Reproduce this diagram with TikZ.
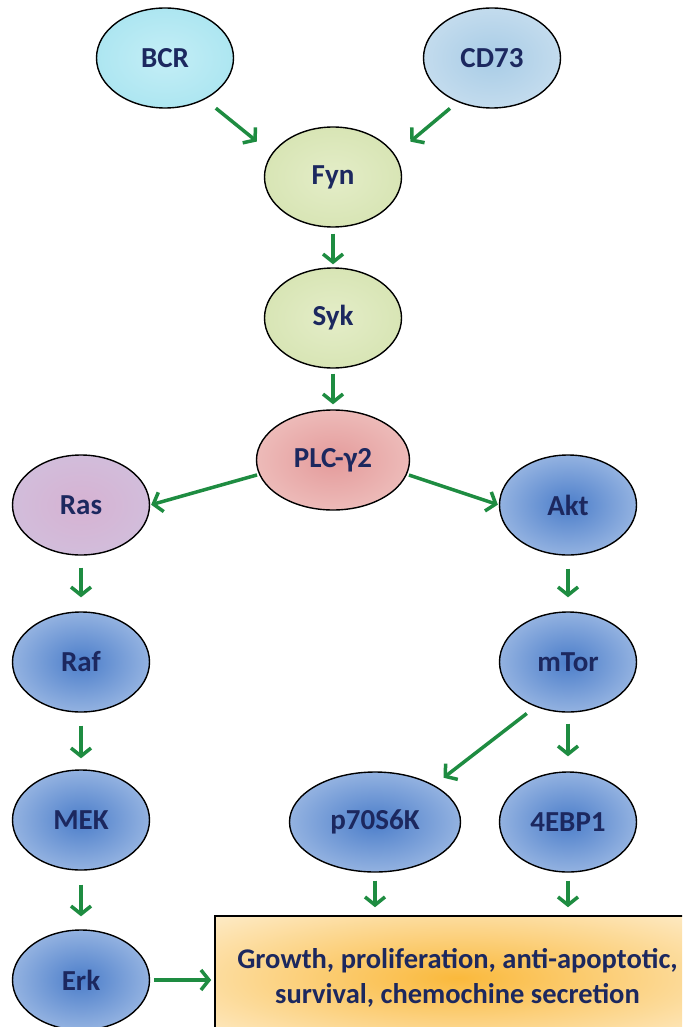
\documentclass[tikz,border=0pt]{standalone}
\usepackage{fontspec}
\setmainfont{Carlito}
\usetikzlibrary{shapes.geometric, arrows.meta}
\definecolor{labelblue}{RGB}{28,40,95}
\definecolor{arrowgreen}{RGB}{30,140,65}
\definecolor{bcrin}{RGB}{196,238,246}
\definecolor{bcrout}{RGB}{150,222,236}
\definecolor{cdin}{RGB}{168,204,230}
\definecolor{cdout}{RGB}{222,235,245}
\definecolor{srcin}{RGB}{228,237,200}
\definecolor{srcout}{RGB}{204,221,162}
\definecolor{plcin}{RGB}{228,155,155}
\definecolor{plcout}{RGB}{246,218,214}
\definecolor{rasin}{RGB}{214,178,210}
\definecolor{rasout}{RGB}{206,200,228}
\definecolor{kinin}{RGB}{76,126,202}
\definecolor{kinout}{RGB}{218,230,247}
\definecolor{fateorange}{RGB}{250,185,60}
\makeatletter
\pgfdeclareradialshading[tikz@radial@inner,tikz@radial@outer]{radial}{\pgfpoint{0bp}{0bp}}{color(0bp)=(tikz@radial@inner); color(50bp)=(tikz@radial@outer)}
\makeatother

\begin{document}
\begin{tikzpicture}[x=1pt, y=-1pt,
	prot/.style={ellipse, draw=black, line width=1.4pt, minimum width=137pt, minimum height=100pt, inner sep=0pt, font=\fontsize{29}{32}\selectfont\bfseries, text=labelblue},
	kin/.style={prot, inner color=kinin, outer color=kinout},
	fate/.style={rectangle, draw=black, line width=1.6pt, minimum width=485pt, minimum height=124pt, align=center, inner color=fateorange, outer color=white, font=\fontsize{28.5}{35}\selectfont\bfseries, text=labelblue},
	arr/.style={draw=arrowgreen, line width=3.5pt, -{Straight Barb[length=8pt, width=20pt]}}]
	\clip (0,0) rectangle (682,1027);
	\fill[white] (0,0) rectangle (682,1027);
	\node[prot, inner color=bcrin, outer color=bcrout] (BCR) at (165,58) {BCR};
	\node[prot, inner color=cdin, outer color=cdout] (CD73) at (492,58) {CD73};
	\node[prot, inner color=srcin, outer color=srcout] (Fyn) at (333,177) {Fyn};
	\node[prot, inner color=srcin, outer color=srcout] (Syk) at (333,318) {Syk};
	\node[prot, minimum width=153pt, inner color=plcin, outer color=plcout] (PLC) at (333,460) {PLC-γ2};
	\node[prot, inner color=rasin, outer color=rasout] (Ras) at (81,505) {Ras};
	\node[kin] (Akt) at (568,505) {Akt};
	\node[kin] (Raf) at (81,662) {Raf};
	\node[kin] (mTor) at (568,662) {mTor};
	\node[kin] (MEK) at (81,820) {MEK};
	\node[kin, minimum width=171pt] (p70) at (375,822) {p70S6K};
	\node[kin] (EBP) at (568,822) {4EBP1};
	\node[kin] (Erk) at (81,980) {Erk};
	\node[fate] (out) at (457.5,978) {Growth, proliferation, anti-apoptotic,\\survival, chemochine secretion};
	\draw[arr, shorten <=14pt, shorten >=19pt] (BCR.-46) -- (Fyn.159);
	\draw[arr, shorten <=10pt, shorten >=20pt] (CD73.232) -- (Fyn.20);
	\draw[arr, shorten <=6pt, shorten >=3pt] (Fyn) -- (Syk);
	\draw[arr, shorten <=5pt, shorten >=5pt] (Syk) -- (PLC);
	\draw[arr, shorten <=2pt, shorten >=1pt] (PLC.191) -- (Ras.east);
	\draw[arr, shorten <=2pt, shorten >=1pt] (PLC.-11) -- (Akt.west);
	\draw[arr, shorten <=12pt, shorten >=14pt] (Ras) -- (Raf);
	\draw[arr, shorten <=13pt, shorten >=11pt] (Raf) -- (MEK);
	\draw[arr, shorten <=14pt, shorten >=13pt] (MEK) -- (Erk);
	\draw[arr, shorten <=13pt, shorten >=14pt] (Akt) -- (mTor);
	\draw[arr, shorten <=11pt, shorten >=12pt] (mTor.234) -- (p70.32);
	\draw[arr, shorten <=11pt, shorten >=15pt] (mTor) -- (EBP);
	\draw[arr, shorten <=8pt, shorten >=8pt] (p70.south) -- (p70.south |- out.north);
	\draw[arr, shorten <=8pt, shorten >=8pt] (EBP.south) -- (EBP.south |- out.north);
	\draw[arr, shorten <=4pt, shorten >=3pt] (Erk.east) -- (Erk.east -| out.west);
\end{tikzpicture}
\end{document}
